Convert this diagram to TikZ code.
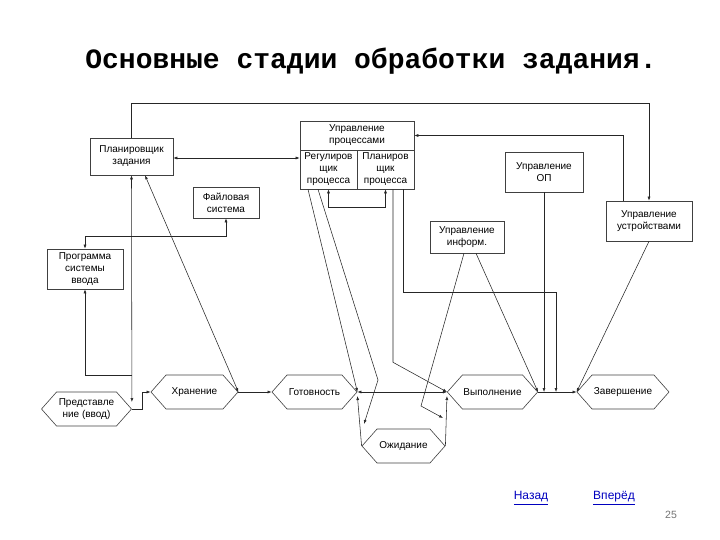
\documentclass[tikz,border=0pt]{standalone}
\usepackage{fontspec}
\setmainfont{Liberation Sans}
\newfontfamily\titlefont{Liberation Mono}
\usetikzlibrary{arrows.meta,shapes.symbols}

\begin{document}
\begin{tikzpicture}[x=1pt, y=-1pt, >={Latex[length=4pt,width=3pt]},
box/.style={draw=black!75, line width=0.6pt, align=center, inner sep=1pt,
font={\fontsize{10}{12}\selectfont}},
stage/.style={draw=black!75, line width=0.6pt, shape=signal, signal to=west and east,
signal pointer angle=97, minimum height=34pt, inner sep=1pt, align=center,
font={\fontsize{10}{12}\selectfont}},
link/.style={draw=black!85, line width=0.55pt}]

\useasboundingbox (0,0) rectangle (720,540);

\node [font={\titlefont\bfseries\fontsize{28}{28}\selectfont}] (title) at (371,61)
{Основные стадии обработки задания.};

\node [box, minimum width=83pt, minimum height=37pt] (plan) at (131.5,156.5) {Планировщик\\задания};
\node [box, minimum width=66pt, minimum height=31pt] (fs) at (226,202.5) {Файловая\\система};
\node [box, minimum width=76pt, minimum height=40pt] (vvod) at (85,269) {Программа\\системы\\ввода};

\node [box, minimum width=114pt, minimum height=29pt] (uproc) at (357,135.5) {Управление\\процессами};
\node [box, minimum width=57pt, minimum height=39pt] (reg) at (328.5,169.5) {Регулиров\\щик\\процесса};
\node [box, minimum width=57pt, minimum height=39pt] (pproc) at (385.5,169.5) {Планиров\\щик\\процесса};

\node [box, minimum width=78pt, minimum height=40pt] (op) at (544,172) {Управление\\ОП};
\node [box, minimum width=86pt, minimum height=40pt] (dev) at (649,221) {Управление\\устройствами};
\node [box, minimum width=74pt, minimum height=32pt] (inf) at (467,237) {Управление\\информ.};

\node [stage, minimum width=90pt] (pred) at (86.5,409) {Представле\\ние (ввод)};
\node [stage, minimum width=87pt] (hran) at (194.5,392) {Хранение};
\node [stage, minimum width=85pt] (gotov) at (314.5,392) {Готовность};
\node [stage, minimum width=89pt] (vyp) at (492.5,392) {Выполнение};
\node [stage, minimum width=92pt] (zav) at (623,392) {Завершение};
\node [stage, minimum width=83pt] (ozh) at (403.5,446) {Ожидание};

\coordinate (ozhin) at (364,424);
\coordinate (vypin) at (443,418);
\coordinate (j1) at (544,392);
\coordinate (j2) at (556,392);

\draw [link,->] (plan.north) -- ++(0,-34) -| (dev.north);
\draw [link,->] ([xshift=-26pt]dev.north) |- (uproc.east);
\draw [link,<->] ([yshift=-1.5pt]plan.east) -- ([yshift=-1.5pt]plan.east -| reg.west);
\draw [link,<->] (reg.south) -- ++(0,18) -| (pproc.south);

\draw [link,->] ([xshift=-20.5pt]reg.south) -- (gotov.east);
\draw [link,->] ([xshift=-10.5pt]reg.south) -- (378,380) -- (ozhin);
\draw [link,->] (ozh.west) -- ([yshift=-4pt]gotov.east);
\draw [link,<->] (gotov.east) -- (vyp.west);
\draw [link,->] (ozh.east) -- ([yshift=-4pt]vyp.west);

\draw [link,->] ([xshift=7.5pt]pproc.south) -- ++(0,173) -- (vyp.west);
\draw [link,->] ([xshift=17.5pt]pproc.south) -- ++(0,103) -| (j2);
\draw [link,->] (op.south) -- (j1);
\draw [link,->] (vyp.east) -- (zav.west);

\draw [link,->] ([xshift=-3pt]inf.south) -- (421,406) -- (vypin);
\draw [link,->] ([xshift=9pt]inf.south) -- (vyp.east);
\draw [link,->] (dev.south) -- (zav.west);

\draw [link,->] (hran.east) -- (gotov.west);
\draw [link,<->] (hran.east) -- ([xshift=13.5pt]plan.south);
\draw [link,<->] (plan.south) -- ([yshift=7pt]pred.east);
\draw [link,->] ([yshift=-200pt]plan.south) -| (vvod.south);
\draw [link,->] (pred.east) -- ++(10,0) |- (hran.west);
\draw [link,<->] (fs.south) -- ++(0,18) -| (vvod.north);

\node [text=blue!75!black, font={\fontsize{12}{12}\selectfont}] (back) at (531,498) {\underline{Назад}};
\node [text=blue!75!black, font={\fontsize{12}{12}\selectfont}] (fwd) at (614,498) {\underline{Вперёд}};
\node [text=black!55, font={\fontsize{10.5}{10.5}\selectfont}] (page) at (671,515) {25};

\end{tikzpicture}
\end{document}
